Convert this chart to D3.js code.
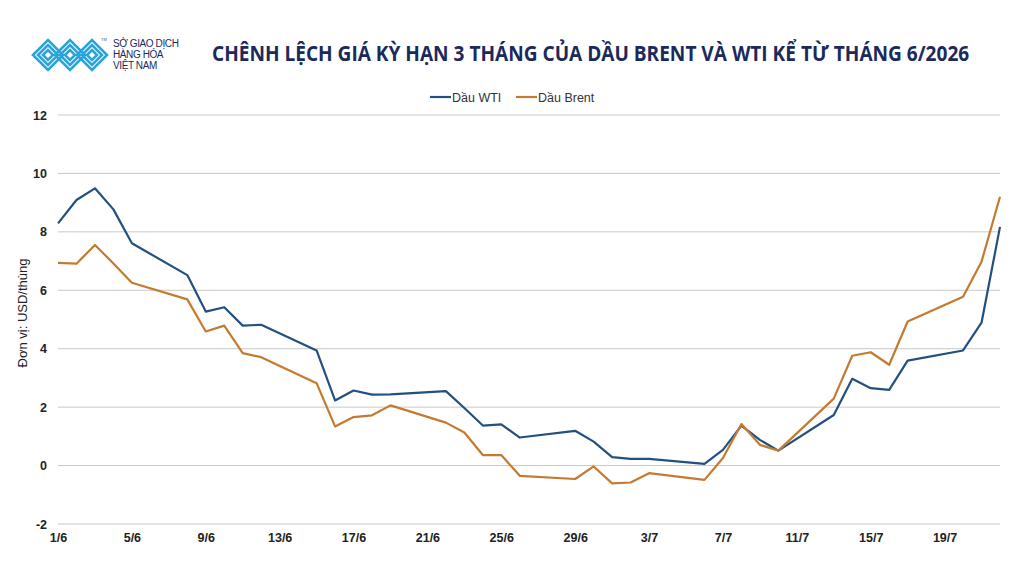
<!DOCTYPE html>
<html>
<head>
<meta charset="utf-8">
<script src="https://cdn.jsdelivr.net/npm/d3@7"></script>
<style>
  html, body { margin: 0; padding: 0; background: #fff; }
  svg { display: block; }
</style>
</head>
<body>
<div id="chart"></div>
<script>
// ngày giao dịch (dd/m, năm 2026)
const dates = ["1/6","2/6","3/6","4/6","5/6","8/6","9/6","10/6","11/6","12/6",
  "15/6","16/6","17/6","18/6","19/6","22/6","23/6","24/6","25/6","26/6",
  "29/6","30/6","1/7","2/7","3/7","6/7","7/7","8/7","9/7","10/7",
  "13/7","14/7","15/7","16/7","17/7","20/7","21/7","22/7"];
// chênh lệch giá kỳ hạn 3 tháng, USD/thùng
const wti = [8.29, 9.09, 9.49, 8.77, 7.61, 6.52, 5.27, 5.42, 4.79, 4.82,
  3.94, 2.23, 2.57, 2.43, 2.44, 2.55, 1.97, 1.37, 1.41, 0.96,
  1.19, 0.82, 0.29, 0.23, 0.23, 0.06, 0.54, 1.37, 0.88, 0.51,
  1.73, 2.97, 2.65, 2.59, 3.59, 3.94, 4.89, 8.17];
const brent = [6.94, 6.91, 7.55, 6.92, 6.26, 5.69, 4.59, 4.79, 3.85, 3.71,
  2.82, 1.34, 1.66, 1.72, 2.06, 1.47, 1.13, 0.36, 0.36, -0.35,
  -0.46, -0.03, -0.61, -0.58, -0.26, -0.49, 0.26, 1.42, 0.71, 0.51,
  2.29, 3.76, 3.88, 3.45, 4.93, 5.78, 6.98, 9.2];
const xTicks = ["1/6","5/6","9/6","13/6","17/6","21/6","25/6","29/6","3/7","7/7","11/7","15/7","19/7"];
const yTicks = [-2, 0, 2, 4, 6, 8, 10, 12];
const series = [
  { name: "Dầu WTI", values: wti, color: "#23507f" },
  { name: "Dầu Brent", values: brent, color: "#c47a30" }
];

const parseDate = s => {
  const [d, m] = s.split("/").map(Number);
  return new Date(2026, m - 1, d);
};

const W = 1024, H = 576;
const svg = d3.select("#chart").append("svg")
  .attr("width", W).attr("height", H);

// ---------- logo ----------
const logo = svg.append("g");
[[48, 55], [70, 55], [92, 55]].forEach(([cx, cy]) => {
  [15, 10, 5].forEach(r => {
    logo.append("path")
      .attr("d", `M${cx - r},${cy} L${cx},${cy - r} L${cx + r},${cy} L${cx},${cy + r} Z`)
      .attr("fill", "none")
      .attr("stroke", "#2aa4d8")
      .attr("stroke-width", 2.6);
  });
});
logo.append("text").attr("x", 101).attr("y", 41)
  .attr("font-family", "Liberation Sans, Arial, sans-serif")
  .attr("font-size", 4).attr("fill", "#555").text("TM");
["SỞ GIAO DỊCH", "HÀNG HÓA", "VIỆT NAM"].forEach((t, i) => {
  logo.append("text")
    .attr("x", 113).attr("y", 47 + i * 11)
    .attr("font-family", "Liberation Sans, Arial, sans-serif")
    .attr("font-size", 10)
    .attr("letter-spacing", -0.4)
    .attr("fill", "#1c2a5a")
    .text(t);
});

// ---------- tiêu đề (nén ngang cho vừa 212 → 970) ----------
const title = svg.append("text")
  .attr("x", 0).attr("y", 0)
  .attr("font-family", "Open Sans, Liberation Sans, sans-serif")
  .attr("font-weight", 700)
  .attr("font-size", 21)
  .attr("fill", "#1b2a5c")
  .text("CHÊNH LỆCH GIÁ KỲ HẠN 3 THÁNG CỦA DẦU BRENT VÀ WTI KỂ TỪ THÁNG 6/2026");
const natural = title.node().getComputedTextLength();
title.attr("transform", `translate(212, 61) scale(${758 / natural}, 1)`);

// ---------- thang đo ----------
const x = d3.scaleTime()
  .domain([parseDate(dates[0]), parseDate(dates[dates.length - 1])])
  .range([58, 1000]);
const y = d3.scaleLinear().domain([-2, 12]).range([524, 115]);

// lưới ngang
svg.append("g").selectAll("line")
  .data(yTicks)
  .join("line")
  .attr("x1", 58).attr("x2", 1000)
  .attr("y1", d => y(d)).attr("y2", d => y(d))
  .attr("stroke", "#c9c9c9")
  .attr("stroke-width", 1);

// trục y
svg.append("g").selectAll("text")
  .data(yTicks)
  .join("text")
  .attr("x", 47).attr("y", d => y(d) + 4.5)
  .attr("text-anchor", "end")
  .attr("font-family", "Liberation Sans, Arial, sans-serif")
  .attr("font-weight", 700)
  .attr("font-size", 12.5)
  .attr("fill", "#222")
  .text(d => d);

// trục x
const xAxis = svg.append("g")
  .attr("transform", `translate(0, ${y(-2)})`)
  .call(d3.axisBottom(x)
    .tickValues(xTicks.map(parseDate))
    .tickSize(0)
    .tickPadding(9)
    .tickFormat(d => `${d.getDate()}/${d.getMonth() + 1}`));
xAxis.select(".domain").remove();
xAxis.selectAll("text")
  .attr("font-family", "Liberation Sans, Arial, sans-serif")
  .attr("font-weight", 700)
  .attr("font-size", 12.5)
  .attr("fill", "#222");

// tiêu đề trục y
svg.append("text")
  .attr("transform", `translate(27, 313) rotate(-90)`)
  .attr("text-anchor", "middle")
  .attr("font-family", "Liberation Sans, Arial, sans-serif")
  .attr("font-size", 13)
  .attr("fill", "#222")
  .text("Đơn vị: USD/thùng");

// ---------- đường ----------
const line = d3.line()
  .x((d, i) => x(parseDate(dates[i])))
  .y(d => y(d));
svg.append("g").selectAll("path")
  .data(series)
  .join("path")
  .attr("d", d => line(d.values))
  .attr("fill", "none")
  .attr("stroke", d => d.color)
  .attr("stroke-width", 2.2)
  .attr("stroke-linejoin", "round");

// ---------- chú thích ----------
const legendX = [430, 516];
const legend = svg.append("g").selectAll("g")
  .data(series)
  .join("g")
  .attr("transform", (d, i) => `translate(${legendX[i]}, 97)`);
legend.append("line")
  .attr("x1", 0).attr("x2", 21)
  .attr("stroke", d => d.color)
  .attr("stroke-width", 2.2);
legend.append("text")
  .attr("x", 22).attr("y", 4.5)
  .attr("font-family", "Liberation Sans, Arial, sans-serif")
  .attr("font-size", 12.5)
  .attr("fill", "#333")
  .text(d => d.name);
</script>
</body>
</html>
